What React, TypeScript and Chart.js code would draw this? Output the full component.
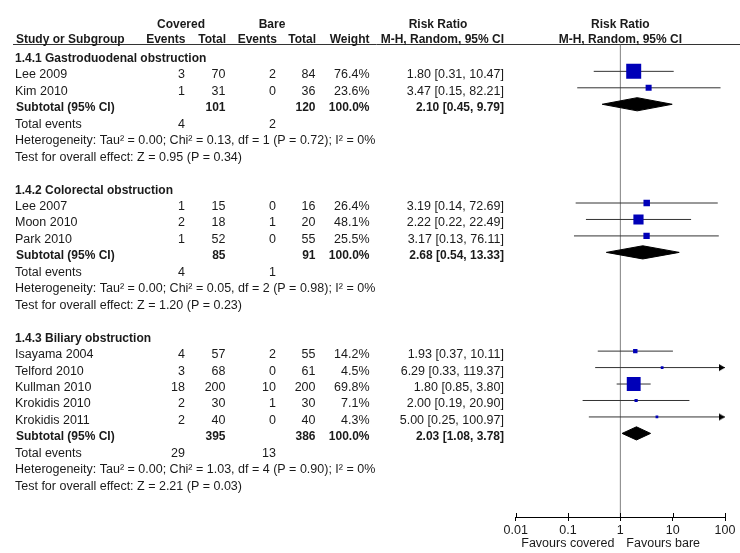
import React, { useEffect, useRef } from 'react';
import { Chart, registerables } from 'chart.js';

Chart.register(...registerables);

// ---------------- data ----------------
const groupTitles = [
  '1.4.1 Gastroduodenal obstruction',
  '1.4.2 Colorectal obstruction',
  '1.4.3 Biliary obstruction',
];
const studyGroup = [0, 0, 1, 1, 1, 2, 2, 2, 2, 2];
const studyNames = [
  'Lee 2009', 'Kim 2010',
  'Lee 2007', 'Moon 2010', 'Park 2010',
  'Isayama 2004', 'Telford 2010', 'Kullman 2010', 'Krokidis 2010', 'Krokidis 2011',
];
const coveredEvents = [3, 1, 1, 2, 1, 4, 3, 18, 2, 2];
const coveredTotal = [70, 31, 15, 18, 52, 57, 68, 200, 30, 40];
const bareEvents = [2, 0, 0, 1, 0, 2, 0, 10, 1, 0];
const bareTotal = [84, 36, 16, 20, 55, 55, 61, 200, 30, 40];
const studyWeight = [76.4, 23.6, 26.4, 48.1, 25.5, 14.2, 4.5, 69.8, 7.1, 4.3];
const studyRR = [1.8, 3.47, 3.19, 2.22, 3.17, 1.93, 6.29, 1.8, 2.0, 5.0];
const studyLower = [0.31, 0.15, 0.14, 0.22, 0.13, 0.37, 0.33, 0.85, 0.19, 0.25];
const studyUpper = [10.47, 82.21, 72.69, 22.49, 76.11, 10.11, 119.37, 3.8, 20.9, 100.97];

const subtotalCoveredTotal = [101, 85, 395];
const subtotalBareTotal = [120, 91, 386];
const subtotalRR = [2.1, 2.68, 2.03];
const subtotalLower = [0.45, 0.54, 1.08];
const subtotalUpper = [9.79, 13.33, 3.78];
const totalCoveredEvents = [4, 4, 29];
const totalBareEvents = [2, 1, 13];
const heterogeneityText = [
  'Heterogeneity: Tau² = 0.00; Chi² = 0.13, df = 1 (P = 0.72); I² = 0%',
  'Heterogeneity: Tau² = 0.00; Chi² = 0.05, df = 2 (P = 0.98); I² = 0%',
  'Heterogeneity: Tau² = 0.00; Chi² = 1.03, df = 4 (P = 0.90); I² = 0%',
];
const overallEffectText = [
  'Test for overall effect: Z = 0.95 (P = 0.34)',
  'Test for overall effect: Z = 1.20 (P = 0.23)',
  'Test for overall effect: Z = 2.21 (P = 0.03)',
];
const axisTicks = [0.01, 0.1, 1, 10, 100];
const axisMin = 0.01;
const axisMax = 100;
const favoursLeft = 'Favours covered';
const favoursRight = 'Favours bare';

// ---------------- layout helpers ----------------
const FONT = '"Liberation Sans", Arial, Helvetica, sans-serif';
const TEXT = '#1a1a1a';
const NORMAL_SIZE = 12.5;
const BOLD_SIZE = 12;

type Row = { kind: string; row: number; idx: number };

function buildRows(): Row[] {
  const rows: Row[] = [];
  let r = 0;
  for (let g = 0; g < groupTitles.length; g++) {
    rows.push({ kind: 'title', row: r++, idx: g });
    for (let s = 0; s < studyNames.length; s++) {
      if (studyGroup[s] === g) rows.push({ kind: 'study', row: r++, idx: s });
    }
    rows.push({ kind: 'subtotal', row: r++, idx: g });
    rows.push({ kind: 'events', row: r++, idx: g });
    rows.push({ kind: 'het', row: r++, idx: g });
    rows.push({ kind: 'test', row: r++, idx: g });
    r++; // blank line
  }
  return rows;
}

const f2 = (v: number) => v.toFixed(2);
const ciText = (rr: number, lo: number, hi: number) => `${f2(rr)} [${f2(lo)}, ${f2(hi)}]`;

function arrowImage(): HTMLCanvasElement {
  const c = document.createElement('canvas');
  c.width = 14;
  c.height = 9;
  const ctx = c.getContext('2d')!;
  ctx.fillStyle = '#000';
  ctx.beginPath();
  ctx.moveTo(1, 1);
  ctx.lineTo(7, 4.5);
  ctx.lineTo(1, 8);
  ctx.closePath();
  ctx.fill();
  return c;
}

export default function App() {
  const ref = useRef<HTMLCanvasElement | null>(null);

  useEffect(() => {
    if (!ref.current) return;
    Chart.defaults.font.family = FONT;
    const rows = buildRows();
    const studyRow: number[] = [];
    const subtotalRow: number[] = [];
    rows.forEach((r) => {
      if (r.kind === 'study') studyRow[r.idx] = r.row;
      if (r.kind === 'subtotal') subtotalRow[r.idx] = r.row;
    });

    const whiskers: any[] = [];
    studyNames.forEach((_, i) => {
      whiskers.push({ x: Math.max(studyLower[i], axisMin), y: studyRow[i] });
      whiskers.push({ x: Math.min(studyUpper[i], axisMax), y: studyRow[i] });
      whiskers.push({ x: null, y: null });
    });
    const squares = studyNames.map((_, i) => ({ x: studyRR[i], y: studyRow[i] }));
    const squareRadius = studyWeight.map((w) => (2 + 0.17 * w) / Math.SQRT2);
    const arrows = studyNames
      .map((_, i) => (studyUpper[i] > axisMax ? { x: axisMax, y: studyRow[i] } : null))
      .filter((p) => p !== null);

    const H = 0.4;
    const diamondSets = groupTitles.map((_, g) => ({
      type: 'line' as const,
      data: [
        { x: subtotalLower[g], y: subtotalRow[g] },
        { x: subtotalRR[g], y: subtotalRow[g] - H },
        { x: subtotalUpper[g], y: subtotalRow[g] },
        { x: subtotalRR[g], y: subtotalRow[g] + H },
        { x: subtotalLower[g], y: subtotalRow[g] },
      ],
      borderColor: '#000',
      backgroundColor: '#000',
      borderWidth: 1,
      pointRadius: 0,
      tension: 0,
      fill: 'shape',
      order: 2,
    }));

    const tablePlugin = {
      id: 'forestTable',
      beforeDatasetsDraw(chart: any) {
        const { ctx, chartArea } = chart;
        const xs = chart.scales.x;
        const ys = chart.scales.y;
        const lineY = Math.round(ys.getPixelForValue(-1) + 6) + 0.5;
        ctx.save();
        ctx.strokeStyle = '#333';
        ctx.lineWidth = 1;
        ctx.beginPath();
        ctx.moveTo(13, lineY);
        ctx.lineTo(740, lineY);
        ctx.stroke();
        const x1 = xs.getPixelForValue(1);
        ctx.strokeStyle = '#808080';
        ctx.beginPath();
        ctx.moveTo(x1, lineY);
        ctx.lineTo(x1, chartArea.bottom);
        ctx.stroke();
        ctx.strokeStyle = '#000';
        axisTicks.forEach((t) => {
          const px = Math.round(xs.getPixelForValue(t)) + 0.5;
          ctx.beginPath();
          ctx.moveTo(px, chartArea.bottom - 4);
          ctx.lineTo(px, chartArea.bottom);
          ctx.stroke();
        });
        ctx.restore();
      },
      afterDraw(chart: any) {
        const { ctx, chartArea } = chart;
        const xs = chart.scales.x;
        const ys = chart.scales.y;
        const plotCenter = (chartArea.left + chartArea.right) / 2;
        const base = (row: number) => ys.getPixelForValue(row) + 7;
        ctx.save();
        ctx.fillStyle = TEXT;
        ctx.textBaseline = 'alphabetic';
        const txt = (s: string, x: number, y: number, align: string, bold = false) => {
          ctx.font = bold ? `bold ${BOLD_SIZE}px ${FONT}` : `${NORMAL_SIZE}px ${FONT}`;
          ctx.textAlign = align;
          ctx.fillText(s, x, y);
        };
        const h1 = ys.getPixelForValue(-2) + 6;
        const h2 = ys.getPixelForValue(-1) + 4.5;
        txt('Covered', 181, h1, 'center', true);
        txt('Bare', 272, h1, 'center', true);
        txt('Risk Ratio', 438, h1, 'center', true);
        txt('Risk Ratio', plotCenter, h1, 'center', true);
        txt('Study or Subgroup', 16, h2, 'left', true);
        txt('Events', 185.5, h2, 'right', true);
        txt('Total', 226, h2, 'right', true);
        txt('Events', 277, h2, 'right', true);
        txt('Total', 316, h2, 'right', true);
        txt('Weight', 369.5, h2, 'right', true);
        txt('M-H, Random, 95% CI', 504, h2, 'right', true);
        txt('M-H, Random, 95% CI', plotCenter, h2, 'center', true);

        rows.forEach((r) => {
          const y = base(r.row);
          const i = r.idx;
          if (r.kind === 'title') {
            txt(groupTitles[i], 15, y, 'left', true);
          } else if (r.kind === 'study') {
            txt(studyNames[i], 15, y, 'left');
            txt(String(coveredEvents[i]), 185, y, 'right');
            txt(String(coveredTotal[i]), 225.5, y, 'right');
            txt(String(bareEvents[i]), 276, y, 'right');
            txt(String(bareTotal[i]), 315.5, y, 'right');
            txt(`${studyWeight[i].toFixed(1)}%`, 369.5, y, 'right');
            txt(ciText(studyRR[i], studyLower[i], studyUpper[i]), 504, y, 'right');
          } else if (r.kind === 'subtotal') {
            txt('Subtotal (95% CI)', 16, y, 'left', true);
            txt(String(subtotalCoveredTotal[i]), 225.5, y, 'right', true);
            txt(String(subtotalBareTotal[i]), 315.5, y, 'right', true);
            txt('100.0%', 369.5, y, 'right', true);
            txt(ciText(subtotalRR[i], subtotalLower[i], subtotalUpper[i]), 504, y, 'right', true);
          } else if (r.kind === 'events') {
            txt('Total events', 15, y, 'left');
            txt(String(totalCoveredEvents[i]), 185, y, 'right');
            txt(String(totalBareEvents[i]), 276, y, 'right');
          } else if (r.kind === 'het') {
            txt(heterogeneityText[i], 15, y, 'left');
          } else if (r.kind === 'test') {
            txt(overallEffectText[i], 15, y, 'left');
          }
        });

        const x1 = xs.getPixelForValue(1);
        const fy = chartArea.bottom + 29.5;
        txt(favoursLeft, x1 - 6, fy, 'right');
        txt(favoursRight, x1 + 6, fy, 'left');
        ctx.restore();
      },
    };

    const chart = new Chart(ref.current, {
      type: 'scatter',
      data: {
        datasets: [
          {
            type: 'scatter',
            data: squares,
            pointStyle: 'rect',
            pointRadius: squareRadius,
            backgroundColor: '#0000b8',
            borderWidth: 0,
            order: 0,
          } as any,
          {
            type: 'scatter',
            data: arrows,
            pointStyle: arrowImage(),
            pointRadius: 4,
            clip: false,
            order: 1,
          } as any,
          ...(diamondSets as any[]),
          {
            type: 'line',
            data: whiskers,
            borderColor: '#333',
            borderWidth: 1,
            pointRadius: 0,
            spanGaps: false,
            fill: false,
            order: 3,
          } as any,
        ],
      },
      options: {
        responsive: false,
        maintainAspectRatio: false,
        animation: false,
        events: [],
        layout: { padding: { left: 515.7, right: 15, top: 0, bottom: 0 } },
        plugins: {
          legend: { display: false },
          tooltip: { enabled: false },
        },
        scales: {
          x: {
            type: 'logarithmic',
            position: 'bottom',
            min: axisMin,
            max: axisMax,
            afterBuildTicks: (scale: any) => {
              scale.ticks = axisTicks.map((v) => ({ value: v }));
            },
            afterFit: (scale: any) => {
              scale.height = 36;
            },
            grid: {
              drawOnChartArea: false,
              drawTicks: true,
              tickLength: 4,
              color: '#000',
            },
            border: { display: true, color: '#000', width: 1 },
            ticks: {
              autoSkip: false,
              maxRotation: 0,
              padding: 2,
              color: TEXT,
              font: { size: NORMAL_SIZE, family: FONT },
              callback: (v: any) => String(v),
            },
          },
          y: {
            type: 'linear',
            display: false,
            reverse: true,
            min: -2.692,
            max: 28.08,
          },
        },
      } as any,
      plugins: [tablePlugin as any],
    });
    return () => chart.destroy();
  }, []);

  return (
    <div style={{ position: 'fixed', left: 0, top: 0, width: 740, height: 553, background: '#fff' }}>
      <canvas ref={ref} width={740} height={553} style={{ display: 'block' }} />
    </div>
  );
}
